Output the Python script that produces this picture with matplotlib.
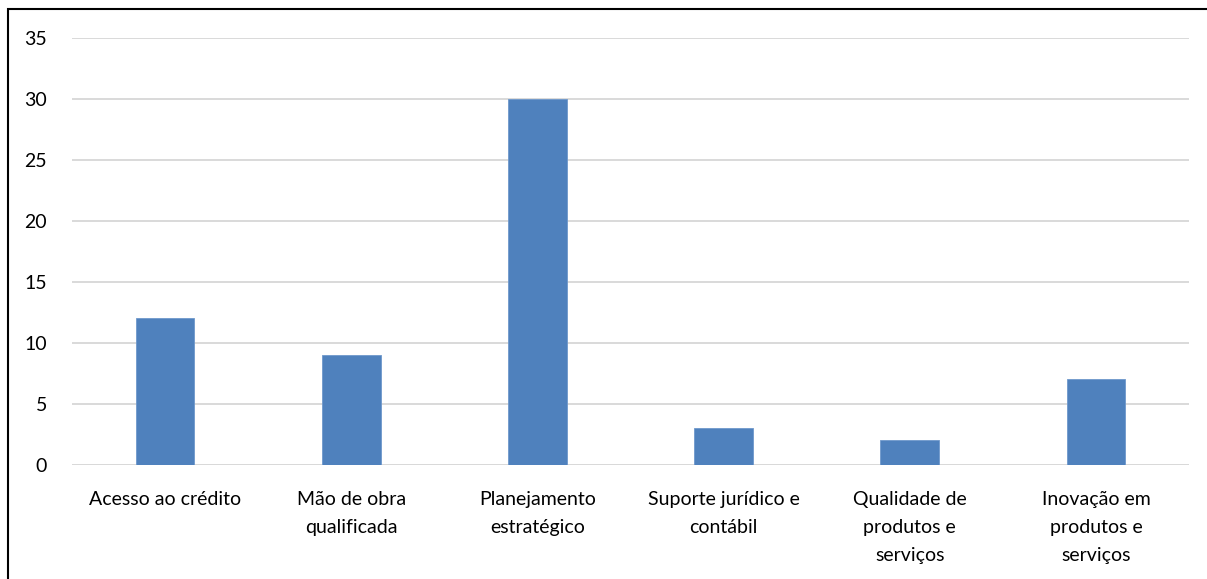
import matplotlib
matplotlib.use("Agg")
import matplotlib.pyplot as plt
from matplotlib.patches import Rectangle

categories = [
    "Acesso ao crédito",
    "Mão de obra\nqualificada",
    "Planejamento\nestratégico",
    "Suporte jurídico e\ncontábil",
    "Qualidade de\nprodutos e\nserviços",
    "Inovação em\nprodutos e\nserviços",
]
values = [12, 9, 30, 3, 2, 7]
y_ticks = [0, 5, 10, 15, 20, 25, 30, 35]

plt.rcParams["font.family"] = ["Lato", "DejaVu Sans"]

W, H = 1207, 579
fig = plt.figure(figsize=(W / 100, H / 100), dpi=100)

# outer chart frame
fig.patches.append(Rectangle((8 / W, -0.1), 1.2, 1.1 - 9 / H, transform=fig.transFigure,
                             fill=False, edgecolor="black", linewidth=1.5))

ax = fig.add_axes([72 / W, (H - 464.5) / H, (1189 - 72) / W, (464.5 - 38) / H])
x = list(range(len(categories)))
ax.bar(x, values, width=0.315, color="#4F81BD", edgecolor="#6E98CC", linewidth=0.6, zorder=3)
ax.set_xlim(-0.5, len(categories) - 0.5)
ax.set_ylim(0, 35)
ax.set_yticks(y_ticks)
ax.set_xticks(x)
ax.set_xticklabels(categories, fontsize=14, linespacing=1.8, va="top")
ax.tick_params(axis="y", labelsize=14, length=0, pad=18)
ax.tick_params(axis="x", length=0, pad=19)
ax.grid(axis="y", color="#D9D9D9", linewidth=1.4, zorder=0)
for s in ax.spines.values():
    s.set_visible(False)
ax.axhline(0, color="#D9D9D9", linewidth=1.4, zorder=2)

fig.savefig("out.png", dpi=100)
